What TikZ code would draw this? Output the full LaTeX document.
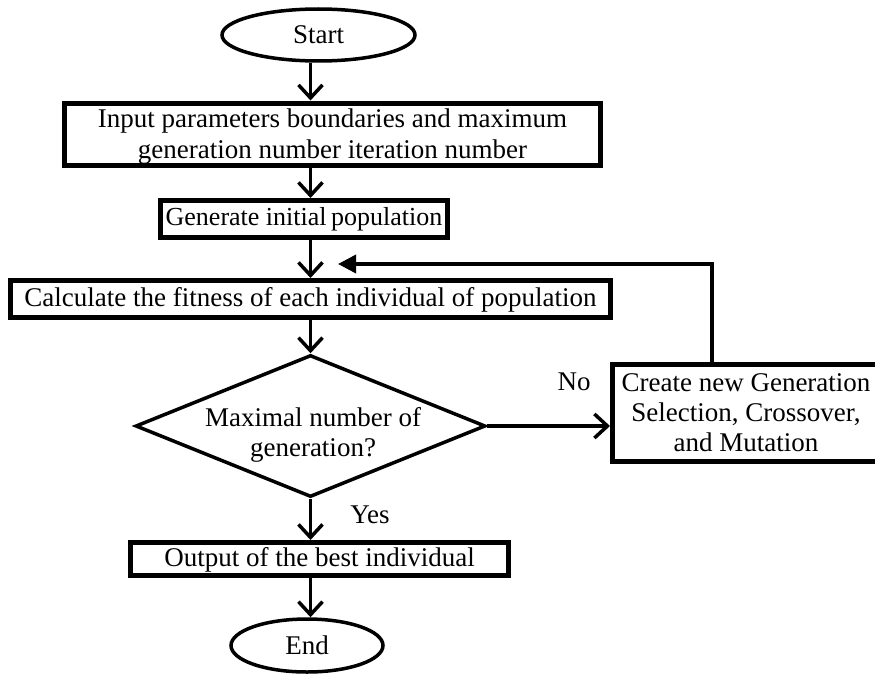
\documentclass[tikz,border=0pt]{standalone}
\usepackage{fontspec}
\setmainfont{Liberation Serif}
\usetikzlibrary{shapes.geometric,arrows.meta}
\begin{document}
\begin{tikzpicture}[x=1pt,y=-1pt,
  every node/.style={font=\fontsize{27}{30}\selectfont},
  box/.style={draw, line width=5pt, rectangle, inner sep=0pt, align=center},
  term/.style={draw, line width=3.5pt, ellipse, inner sep=0pt},
  decision/.style={draw, line width=3.5pt, diamond, inner sep=0pt},
  flow/.style={line width=3.5pt, -{Straight Barb[length=13pt,width=24pt,line width=3.5pt]}},
  back/.style={line width=3.5pt, -{Triangle[length=18pt,width=18pt]}},
  lbl/.style={inner sep=0pt}]
\useasboundingbox (0,0) rectangle (875,677);
\fill[white] (0,0) rectangle (875,677);

\node[term, minimum width=193pt, minimum height=52pt] (start) at (318.5,35) {Start};
\node[box, minimum width=536pt, minimum height=61pt, font=\fontsize{27}{31}\selectfont] (b1) at (332.5,134)
  {\raisebox{-3pt}[\height][\depth]{\begin{tabular}{@{}c@{}}Input parameters boundaries and maximum\\generation number iteration number\end{tabular}}};
\node[box, minimum width=287pt, minimum height=37pt, font=\fontsize{26}{30}\selectfont] (b2) at (304,219)
  {Generate initial\hspace{-2pt} population};
\node[box, minimum width=600pt, minimum height=37pt] (b3) at (310.5,299)
  {\raisebox{-1pt}[\height][\depth]{Calculate the fitness of each individual of population}};
\node[decision, minimum width=350pt, minimum height=142pt] (dec) at (310.5,426) {};
\node[lbl, align=center] (dect) at (313,435) {Maximal number of\\generation?};
\node[box, minimum width=267pt, minimum height=97pt] (b4) at (746,413)
  {Create new Generation\\Selection, Crossover,\\and Mutation};
\node[box, minimum width=378pt, minimum height=33pt] (b5) at (319.5,559)
  {\raisebox{-1pt}[\height][\depth]{Output of the best individual}};
\node[term, minimum width=152pt, minimum height=53pt] (end) at (307,645.5) {End};

\node[lbl] (no) at (574,382) {No};
\node[lbl] (yes) at (370,515) {Yes};

\coordinate (col) at (310.5,0);
\coordinate (fbx) at (712,264);
\coordinate (fbt) at (338,264);

\draw[flow] (start.south -| col) -- (b1.north -| col);
\draw[flow] (b1.south -| col) -- (b2.north -| col);
\draw[flow] (b2.south -| col) -- (b3.north -| col);
\draw[flow] (b3.south -| col) -- (dec.north);
\draw[flow] (dec.east) -- (dec.east -| b4.west);
\draw[flow] (dec.south) -- (b5.north -| dec.south);
\draw[flow] (b5.south -| dec.south) -- (end.north -| dec.south);
\draw[back] (b4.north -| fbx) -- (fbx) -- (fbt);
\end{tikzpicture}
\end{document}
